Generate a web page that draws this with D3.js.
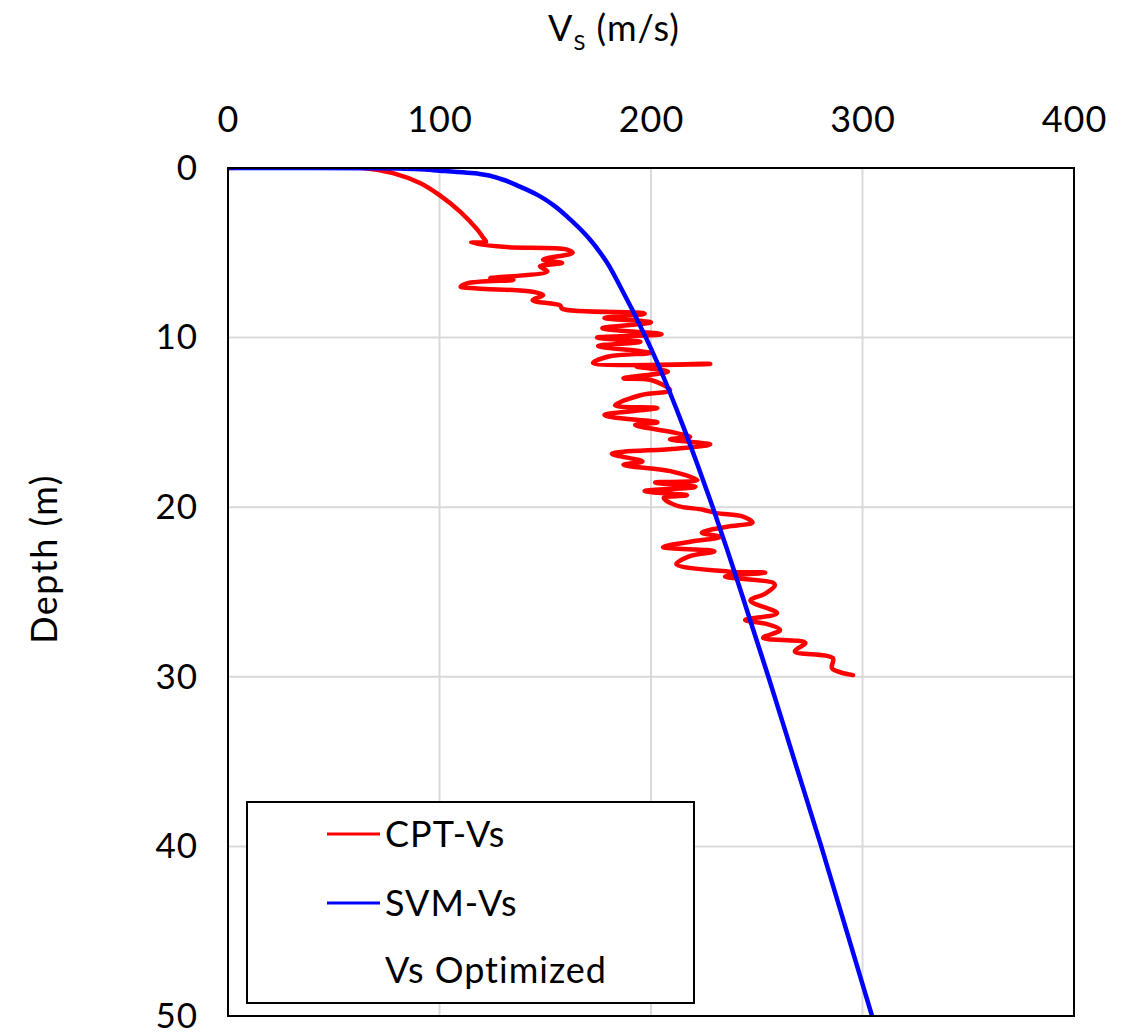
<!DOCTYPE html>
<html>
<head>
<meta charset="utf-8">
<script src="https://cdn.jsdelivr.net/npm/d3@7"></script>
<style>
  html, body { margin: 0; padding: 0; background: #fff; }
  svg { display: block; }
  text { font-family: Lato, "Noto Sans", sans-serif; fill: #000; }
</style>
</head>
<body>
<svg id="chart" width="1137" height="1034"></svg>
<script>
// ---- data (depth in m, Vs in m/s) ----
const xTicks = [0, 100, 200, 300, 400];
const yTicks = [0, 10, 20, 30, 40, 50];
const seriesNames = ["CPT-Vs", "SVM-Vs", "Vs Optimized"];

const cptDepth = [0, 0, 0.3, 0.9, 1.6, 2.6, 3.65, 4.1, 4.35, 4.4, 4.65, 4.8, 5.0, 5.4, 5.6, 5.8, 6.1, 6.5, 6.6, 6.8, 7.0, 7.1, 7.3, 7.5, 7.8, 8.1, 8.3, 8.55,
  8.6, 8.85, 9.1, 9.45, 9.8, 10.0, 10.25, 10.5, 10.9, 11.1, 11.5, 11.55, 11.7, 12.0, 12.4, 12.5, 13.1, 13.4, 14.0, 14.15, 14.55,
  14.7, 15.0, 15.15, 15.55, 15.85, 16.0, 16.3, 16.55, 16.85, 17.3, 17.5, 17.9, 18.4, 18.55, 18.8, 19.05, 19.3, 19.45, 19.9, 20.15, 20.35,
  20.55, 20.9, 21.15, 21.5, 21.75, 22.05, 22.35, 22.6, 22.9, 23.35, 23.8, 23.85, 24.1, 24.45, 24.6, 25.1, 25.5, 26.25, 26.65, 26.9, 27.25, 27.7, 28.0, 28.5, 28.9, 29.5, 29.9];
const cptVs = [0, 64, 78, 91, 100, 110, 118, 120.6, 122, 115, 130, 160, 163, 149, 158, 147.5, 151, 124, 135, 113, 110, 118, 144, 149, 144, 157, 158, 196,
  197, 178, 200, 177, 205, 174.5, 195, 175, 199.5, 180.5, 172.6, 228, 193, 208, 187, 200, 209, 195, 183, 203, 178,
  182, 203, 192.5, 209, 218.5, 209, 228, 212, 181.5, 196, 187, 210, 222, 202, 221, 197, 217, 206, 212, 224.6, 231,
  243.5, 248, 236, 224, 232.6, 218, 205.7, 230, 218, 212, 237, 254, 235, 257.7, 258.6, 254, 247, 259.6, 244.5, 255, 261, 253, 273, 268, 286, 285.6, 295.5];

const svmDepth = [0, 0.003, 0.02, 0.06, 0.16, 0.35, 0.65, 1.1, 1.6, 2.2, 3.0, 4.05, 5.5, 7.0, 10.0, 12.5, 15.0, 17.5, 20.0, 22.5, 25.0, 30.0, 35.0, 40.0, 45.0, 50.0];
const svmVs    = [0, 40, 70, 88, 100, 119, 129, 138, 146.5, 154, 161.5, 170, 178.8, 185.5, 197.6, 206.5, 214.5, 222, 229.2, 236, 242.6, 255.5, 268, 280.5, 292.5, 304.5];

const colors = ["#ff0000", "#0000ff"];

// ---- layout ----
const svg = d3.select("#chart");
const pL = 228, pT = 168, pR = 1074, pB = 1016;

const x = d3.scaleLinear().domain([0, 400]).range([pL, pR]);
const y = d3.scaleLinear().domain([0, 50]).range([pT, pB]);

svg.append("defs").append("clipPath").attr("id", "plotclip")
  .append("rect").attr("x", pL).attr("y", pT).attr("width", pR - pL).attr("height", pB - pT);

// gridlines
svg.append("g").selectAll("line").data(xTicks.slice(1, -1)).join("line")
  .attr("x1", d => x(d)).attr("x2", d => x(d)).attr("y1", pT).attr("y2", pB)
  .attr("stroke", "#d9d9d9").attr("stroke-width", 2);
svg.append("g").selectAll("line").data(yTicks.slice(1, -1)).join("line")
  .attr("y1", d => y(d)).attr("y2", d => y(d)).attr("x1", pL).attr("x2", pR)
  .attr("stroke", "#d9d9d9").attr("stroke-width", 2);

// axes (labels only)
const xAxis = svg.append("g").attr("transform", `translate(0,${pT})`)
  .call(d3.axisTop(x).tickValues(xTicks).tickSize(0).tickPadding(36));
xAxis.select(".domain").remove();
xAxis.selectAll("text").attr("font-size", 36).attr("letter-spacing", 1)
  .attr("font-family", "Lato, sans-serif").attr("fill", "#000");

const yAxis = svg.append("g").attr("transform", `translate(${pL},0)`)
  .call(d3.axisLeft(y).tickValues(yTicks).tickSize(0).tickPadding(30));
yAxis.select(".domain").remove();
yAxis.selectAll("text").attr("font-size", 35).attr("letter-spacing", 1)
  .attr("font-family", "Lato, sans-serif").attr("fill", "#000");

// lines
const cpt = cptDepth.map((d, i) => ({ z: d, v: cptVs[i] }));
const svm = svmDepth.map((d, i) => ({ z: d, v: svmVs[i] }));

const lines = svg.append("g").attr("clip-path", "url(#plotclip)");
lines.append("path").datum(cpt)
  .attr("fill", "none").attr("stroke", colors[0]).attr("stroke-width", 4.5)
  .attr("stroke-linejoin", "round").attr("stroke-linecap", "round")
  .attr("d", d3.line().x(d => x(d.v)).y(d => y(d.z)).curve(d3.curveCatmullRom.alpha(0.5)));

lines.append("path").datum(svm)
  .attr("fill", "none").attr("stroke", colors[1]).attr("stroke-width", 4.5)
  .attr("d", d3.line().x(d => x(d.v)).y(d => y(d.z)).curve(d3.curveMonotoneY));

// plot border
svg.append("rect").attr("x", pL).attr("y", pT).attr("width", pR - pL).attr("height", pB - pT)
  .attr("fill", "none").attr("stroke", "#000").attr("stroke-width", 2);

// axis titles
const xt = svg.append("text").attr("x", 614).attr("y", 41).attr("text-anchor", "middle")
  .attr("font-size", 36).attr("letter-spacing", 1);
xt.append("tspan").text("V");
xt.append("tspan").attr("font-size", 22).attr("dy", 9).text("S");
xt.append("tspan").attr("dy", -9).text(" (m/s)");

svg.append("text").attr("transform", "translate(57,559) rotate(-90)")
  .attr("text-anchor", "middle").attr("font-size", 36).attr("letter-spacing", 1.5).text("Depth (m)");

// legend
const lg = svg.append("g");
lg.append("rect").attr("x", 247).attr("y", 802).attr("width", 447).attr("height", 201)
  .attr("fill", "#fff").attr("stroke", "#000").attr("stroke-width", 2);
const legendY = [834, 903, 970];
seriesNames.forEach((name, i) => {
  if (i < 2) {
    lg.append("line").attr("x1", 327).attr("x2", 380).attr("y1", legendY[i]).attr("y2", legendY[i])
      .attr("stroke", colors[i]).attr("stroke-width", 3);
  }
  lg.append("text").attr("x", 385).attr("y", legendY[i]).attr("dy", "0.36em")
    .attr("font-size", 36).attr("letter-spacing", 1).text(name);
});
</script>
</body>
</html>
